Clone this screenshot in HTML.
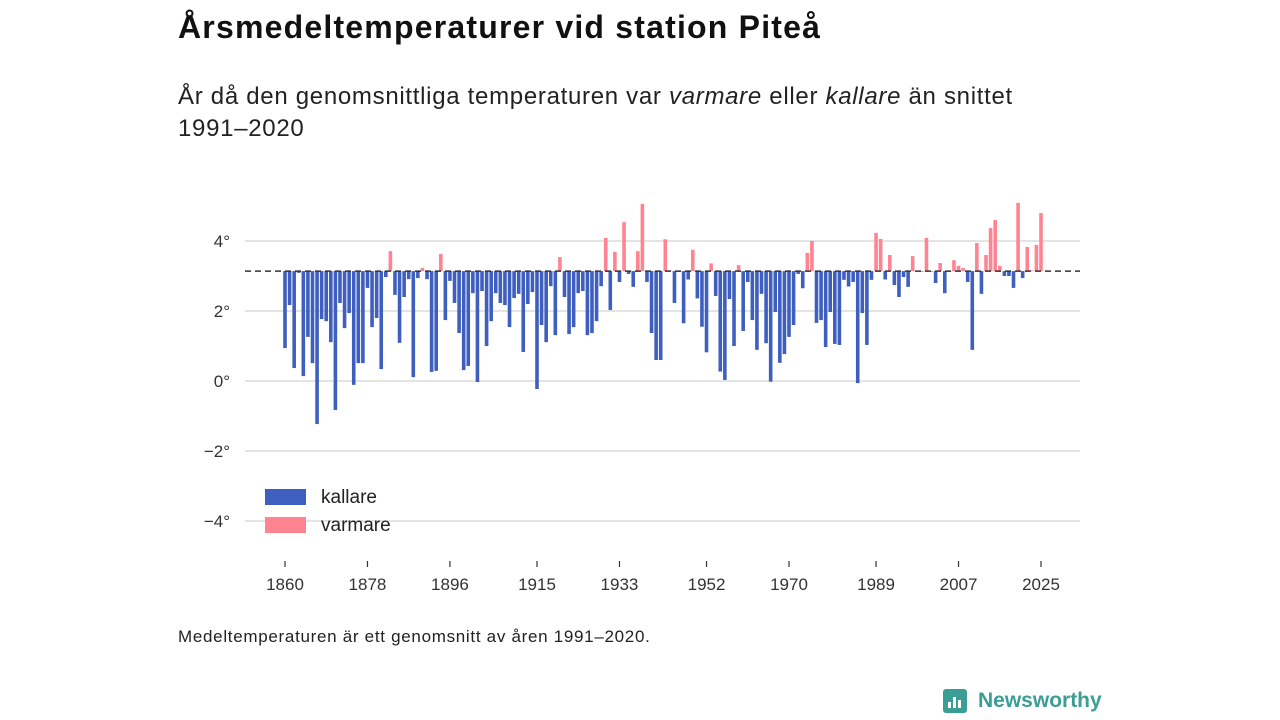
<!DOCTYPE html>
<html><head><meta charset="utf-8">
<style>
body{margin:0;width:1280px;height:720px;background:#fff;font-family:"Liberation Sans",sans-serif;overflow:hidden;position:relative}
.t{position:absolute;left:178px;top:9px;font-size:32px;letter-spacing:1.2px;font-weight:bold;color:#111}
.s{position:absolute;left:178px;top:81px;font-size:24px;letter-spacing:0.7px;line-height:32px;color:#222;width:860px}
.f{position:absolute;left:178px;top:627px;font-size:17px;letter-spacing:0.7px;color:#222}
svg{position:absolute;left:0;top:0}
</style></head><body>
<div class="t">Årsmedeltemperaturer vid station Piteå</div>
<div class="s">År då den genomsnittliga temperaturen var <i>varmare</i> eller <i>kallare</i> än snittet 1991–2020</div>
<div class="f">Medeltemperaturen är ett genomsnitt av åren 1991–2020.</div>
<svg id="c" width="1280" height="720"></svg>
<script>
const startYear = 1860;
const values = [0.94,2.17,0.37,3.09,0.14,1.26,0.51,-1.23,1.77,1.71,1.11,-0.83,2.23,1.51,1.94,-0.11,0.51,0.51,2.66,1.54,1.8,0.34,2.97,3.71,2.46,1.09,2.4,2.91,0.11,2.94,3.23,2.91,0.26,0.29,3.63,1.74,2.86,2.23,1.37,0.31,0.43,2.51,-0.03,2.57,1.0,1.71,2.51,2.23,2.17,1.54,2.37,2.49,0.83,2.2,2.54,-0.23,1.6,1.11,2.71,1.31,3.54,2.4,1.34,1.54,2.51,2.57,1.31,1.37,1.71,2.71,4.09,2.03,3.69,2.83,4.54,3.06,2.69,3.71,5.06,2.83,1.37,0.6,0.6,4.05,3.16,2.23,3.12,1.65,2.9,3.75,2.36,1.55,0.82,3.36,2.43,0.27,0.03,2.34,1.0,3.31,1.43,2.83,1.74,0.89,2.49,1.08,-0.02,1.97,0.52,0.77,1.26,1.6,3.06,2.65,3.66,4.0,1.66,1.74,0.97,1.97,1.06,1.03,2.89,2.7,2.83,-0.06,1.94,1.03,2.89,4.23,4.06,2.9,3.6,2.74,2.4,2.97,2.69,3.57,3.15,3.13,4.09,3.13,2.8,3.37,2.51,3.12,3.45,3.29,3.23,2.83,0.89,3.94,2.49,3.6,4.37,4.6,3.29,3.0,3.0,2.66,5.09,2.94,3.83,3.16,3.89,4.8];
const meanValue = 3.14;
const yTicks = [4,2,0,-2,-4];
const xTicks = [1860,1878,1896,1915,1933,1952,1970,1989,2007,2025];
const NS="http://www.w3.org/2000/svg";
const svg=document.getElementById('c');
const X=y=>285+(y-1860)*(1041-285)/165;
const Y=v=>381-v*35;
function mk(t,a){const e=document.createElementNS(NS,t);for(const k in a)e.setAttribute(k,a[k]);svg.appendChild(e);return e;}
yTicks.forEach(v=>{
  const l=mk('line',{x1:245,x2:1080,y1:Y(v),y2:Y(v),stroke:'#dcdcdc','stroke-width':1.5});
  
  
  const t=mk('text',{x:230,y:Y(v)+6,'text-anchor':'end','font-size':17,fill:'#333','font-family':'Liberation Sans'});
  t.textContent=(v<0?'−'+Math.abs(v):v)+'°';
  
  
});
xTicks.forEach(yr=>{
  const l=mk('line',{x1:X(yr),x2:X(yr),y1:561,y2:567,stroke:'#333','stroke-width':1.2});
  
  
  const t=mk('text',{x:X(yr),y:590,'text-anchor':'middle','font-size':17,fill:'#333','font-family':'Liberation Sans'});
  t.textContent=yr;
  
  
});
values.forEach((v,i)=>{
  const yr=startYear+i, w=v>meanValue;
  const y0=Y(Math.max(v,meanValue)), y1=Y(Math.min(v,meanValue));
  const r=mk('rect',{x:X(yr)-1.8,y:y0,width:3.6,height:Math.max(y1-y0,0.5),fill:w?'#ff8391':'#3f5fbf'});
  
  
});
const m=mk('line',{x1:245,x2:1080,y1:Y(meanValue),y2:Y(meanValue),stroke:'#333','stroke-width':1.5,'stroke-dasharray':'6,4'});


[['kallare','#3f5fbf',489],['varmare','#ff8391',517]].forEach(([n,c,y])=>{
  const r=mk('rect',{x:265,y:y,width:41,height:16,fill:c});
  
  
  const t=mk('text',{x:321,y:y+14,'font-size':19,fill:'#222','font-family':'Liberation Sans'});
  t.textContent=n;
  
  
});
</script>
<div style="position:absolute;left:943px;top:689px;display:flex;align-items:center">
<div style="width:24px;height:24px;background:#3a9e97;border-radius:3px;position:relative">
<div style="position:absolute;left:5px;bottom:5px;width:3px;height:6px;background:#fff"></div>
<div style="position:absolute;left:10px;bottom:5px;width:3px;height:11px;background:#fff"></div>
<div style="position:absolute;left:15px;bottom:5px;width:3px;height:8px;background:#fff"></div></div>
<span style="margin-left:11px;font-size:21px;font-weight:bold;color:#3a9e97">Newsworthy</span></div>
</body></html>
